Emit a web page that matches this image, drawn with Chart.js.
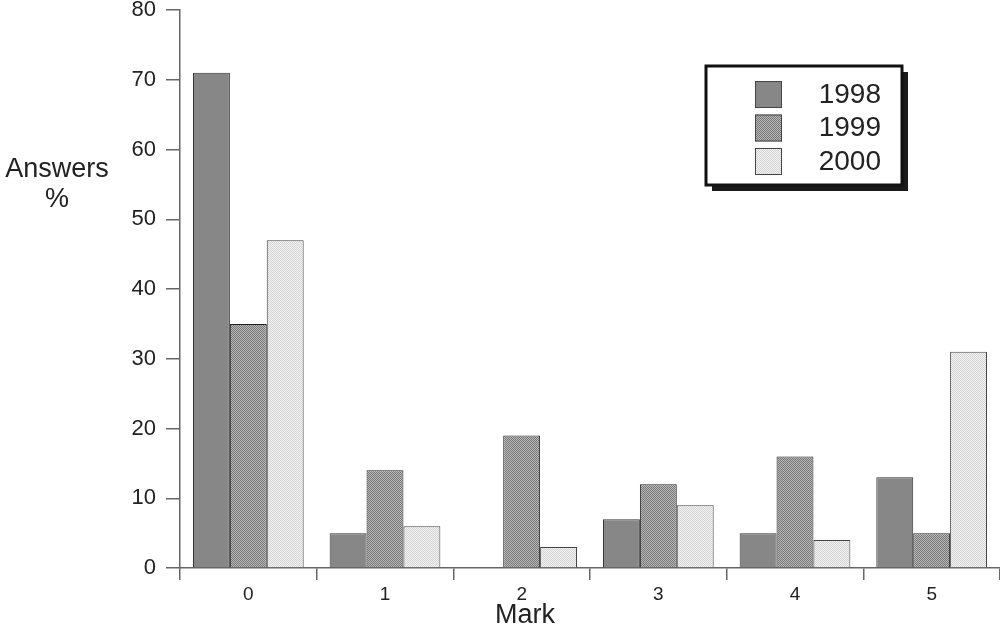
<!DOCTYPE html>
<html>
<head>
<meta charset="utf-8">
<script src="https://cdn.jsdelivr.net/npm/chart.js@4"></script>
<style>
  html, body { margin: 0; padding: 0; background: #fff; }
  #wrap { width: 1000px; height: 627px; position: relative; }
</style>
</head>
<body>
<div id="wrap"><canvas id="chart" width="1000" height="627"></canvas></div>
<script>
// categories and series
const marks = ['0', '1', '2', '3', '4', '5']
const years = ['1998', '1999', '2000']
const values1998 = [71, 5, 0, 7, 5, 13]
const values1999 = [35, 14, 19, 12, 16, 5]
const values2000 = [47, 6, 3, 9, 4, 31]
const yTicks = [0, 10, 20, 30, 40, 50, 60, 70, 80]

const FONT = 'Liberation Sans, Arial, sans-serif'

/* small dotted fills like the printed original */
const makePattern = (a, b) => {
	const c = document.createElement('canvas')
	c.width = 2
	c.height = 2
	const x = c.getContext('2d')
	x.fillStyle = a
	x.fillRect(0, 0, 2, 2)
	x.fillStyle = b
	x.fillRect(0, 0, 1, 1)
	x.fillRect(1, 1, 1, 1)
	return x.createPattern(c, 'repeat')
}
const ctx = document.getElementById('chart').getContext('2d')
const fills = ['#878787', makePattern('#bababa', '#767676'), makePattern('#f2f2f2', '#d4d4d4')]
const borders = ['#333', '#222', '#444']

// y label on the left, x title and the boxed legend
const extras = {
	id: 'extras',
	afterDraw(chart) {
		const c = chart.ctx
		c.save()
		c.fillStyle = '#222'
		c.font = `27px ${FONT}`
		c.textAlign = 'center'
		c.textBaseline = 'middle'
		c.fillText('Answers', 57, 170)
		c.fillText('%', 57, 200)
		c.fillText('Mark', 525, 616)

		// legend box with shadow
		const bx = 706, by = 66, bw = 196, bh = 119
		c.fillStyle = '#1a1a1a'
		c.fillRect(bx + 6, by + 6, bw, bh)
		c.fillStyle = '#fff'
		c.fillRect(bx, by, bw, bh)
		c.lineWidth = 3
		c.strokeStyle = '#111'
		c.strokeRect(bx, by, bw, bh)

		c.font = `28px ${FONT}`
		c.textAlign = 'right'
		chart.data.datasets.forEach((ds, i) => {
			const sy = by + 15 + i * 33.5
			c.fillStyle = ds.backgroundColor
			c.fillRect(755, sy, 27, 27)
			c.lineWidth = 1
			c.strokeStyle = '#444'
			c.strokeRect(755.5, sy + 0.5, 26, 26)
			c.fillStyle = '#222'
			c.fillText(ds.label, 881, sy + 14)
		})
		c.restore()
	}
}

new Chart(ctx, {
	type: 'bar',
	data: {
		labels: marks,
		datasets: [
			{ label: years[0], data: values1998, backgroundColor: fills[0], borderColor: borders[0], borderWidth: 1 },
			{ label: years[1], data: values1999, backgroundColor: fills[1], borderColor: borders[1], borderWidth: 1 },
			{ label: years[2], data: values2000, backgroundColor: fills[2], borderColor: borders[2], borderWidth: 1 }
		]
	},
	options: {
		responsive: false,
		animation: false,
		layout: { padding: { top: 10, right: 0, left: 0, bottom: 0 } },
		plugins: {
			legend: { display: false },
			tooltip: { enabled: false }
		},
		datasets: {
			bar: { categoryPercentage: 0.81, barPercentage: 1, borderSkipped: 'bottom' }
		},
		scales: {
			x: {
				grid: { drawOnChartArea: false, offset: true, tickLength: 12, color: '#666', lineWidth: 1.5 },
				border: { color: '#666', width: 1.5 },
				ticks: { color: '#222', font: { family: FONT, size: 19 }, padding: 3 },
				afterFit(scale) {
					scale.height = 59
					scale.paddingLeft = 0
					scale.paddingRight = 0
				}
			},
			y: {
				min: 0,
				max: 80,
				afterBuildTicks(scale) { scale.ticks = yTicks.map((v) => ({ value: v })) },
				grid: { drawOnChartArea: false, tickLength: 14, color: '#666', lineWidth: 1.5 },
				border: { color: '#666', width: 1.5 },
				ticks: { color: '#222', font: { family: FONT, size: 22 }, padding: 10 },
				afterFit(scale) {
					scale.width = 180
					scale.paddingTop = 0
					scale.paddingBottom = 0
				}
			}
		}
	},
	plugins: [extras]
})
</script>
</body>
</html>
